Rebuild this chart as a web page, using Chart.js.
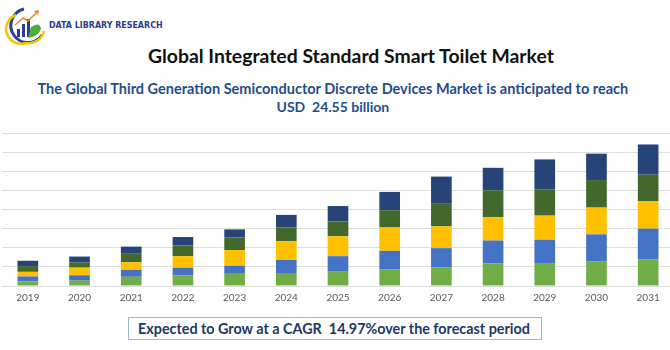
<!DOCTYPE html>
<html>
<head>
<meta charset="utf-8">
<script src="https://cdn.jsdelivr.net/npm/chart.js@4.4.1/dist/chart.umd.min.js"></script>
<style>
    html, body {
        margin: 0;
        padding: 0;
        width: 670px;
        height: 350px;
        overflow: hidden;
        background: #fff;
        font-family: Lato, "Open Sans", sans-serif;
    }
    .txt {
        position: absolute;
        white-space: nowrap;
        font-weight: bold;
        line-height: 1;
    }
    #logoText {
        left: 49px;
        top: 21px;
        font-family: "Liberation Sans Narrow", "DejaVu Sans Condensed", sans-serif;
        font-size: 10px;
        color: #2b3a8c;
    }
    #title {
        top: 46px;
        color: #111;
        font-size: 17px;
    }
    #sub1 {
        top: 82px;
        color: #1f4e8c;
        font-size: 14px;
    }
    #sub2 {
        top: 100px;
        color: #1f4e8c;
        font-size: 14px;
    }
    #cagrBox {
        position: absolute;
        left: 128px;
        top: 317px;
        width: 412px;
        height: 21px;
        border: 1px solid #9db4dc;
    }
    #cagr {
        top: 322px;
        color: #203864;
        font-size: 13px;
    }
    #chartWrap {
        position: absolute;
        left: 0;
        top: 126px;
        width: 676px;
        height: 187px;
    }
</style>
</head>
<body>

<svg style="position:absolute;left:4px;top:5px" width="44" height="42" viewBox="0 0 44 42">
    <path d="M20 4 A17 17 0 1 0 38 30" fill="none" stroke="#2c3e94" stroke-width="3"/>
    <path d="M12 10 A14 14 0 0 0 22 38 A16 16 0 0 0 40 26" fill="none" stroke="#f2c500" stroke-width="2.5"/>
    <rect x="13" y="24" width="3" height="8" fill="#2c3e94"/>
    <rect x="18" y="19" width="3" height="13" fill="#2c3e94"/>
    <rect x="23" y="14" width="3" height="18" fill="#2c3e94"/>
    <path d="M27 22 Q36 16 37 24 Q34 32 24 33 Z" fill="#4caf3a"/>
    <path d="M11 20 L19 13 L24 16 L33 7" fill="none" stroke="#f08a24" stroke-width="1.6"/>
    <path d="M30 6 L35 5 L34 10 Z" fill="#f08a24"/>
</svg>
<div class="txt" id="logoText">DATA LIBRARY RESEARCH</div>

<div class="txt" id="title">Global Integrated Standard Smart Toilet Market</div>
<div class="txt" id="sub1">The Global Third Generation Semiconductor Discrete Devices Market is anticipated to reach</div>
<div class="txt" id="sub2">USD&nbsp; 24.55 billion</div>

<div id="chartWrap"><canvas id="myChart" width="676" height="187"></canvas></div>

<div id="cagrBox"></div>
<div class="txt" id="cagr">Expected to Grow at a CAGR&nbsp; 14.97%over the forecast period</div>

<script>
// values (arbitrary units, gridline step = 5)
var years = ['2019', '2020', '2021', '2022', '2023', '2024', '2025', '2026', '2027', '2028', '2029', '2030', '2031'];

var segGreen = [1.2, 1.4, 2.4, 2.8, 3.2, 3.4, 3.9, 4.4, 4.9, 5.9, 6.0, 6.5, 7.0];
var segBlue = [1.3, 1.4, 1.8, 2.0, 2.1, 3.4, 3.9, 4.8, 5.0, 6.0, 6.1, 7.0, 8.0];
var segYellow = [1.2, 2.0, 2.0, 3.0, 4.1, 4.9, 5.2, 6.1, 5.7, 6.1, 6.3, 7.0, 7.2];
var segDarkGreen = [1.5, 1.4, 2.4, 2.8, 3.3, 3.6, 3.9, 4.5, 5.9, 7.0, 6.9, 7.2, 6.9];
var segNavy = [1.4, 1.5, 1.7, 2.2, 2.1, 3.3, 4.0, 4.8, 7.1, 5.9, 7.8, 6.9, 7.9];

var colors = ['#70ad47', '#4472c4', '#ffc000', '#43682b', '#264478'];

// centre a text element on a given x
function centreAt(id, cx) {
    var el = document.getElementById(id);
    el.style.left = (cx - el.offsetWidth / 2) + 'px';
}

function fitWidth(id, target) {
    var el = document.getElementById(id);
    var size = parseFloat(getComputedStyle(el).fontSize);
    el.style.fontSize = (size * target / el.offsetWidth) + 'px';
}

fitWidth('title', 406);
fitWidth('sub1', 591);
fitWidth('sub2', 113);
fitWidth('cagr', 392);
fitWidth('logoText', 114);
centreAt('title', 351);
centreAt('sub1', 333);
centreAt('sub2', 333);
centreAt('cagr', 334);

function makeSet(label, data, color) {
    return {
        label: label,
        data: data,
        backgroundColor: color,
        borderWidth: 0,
        barPercentage: 0.8,
        categoryPercentage: 0.5
    };
}

var cdata = {
    labels: years,
    datasets: [
        makeSet('Segment 1', segGreen, colors[0]),
        makeSet('Segment 2', segBlue, colors[1]),
        makeSet('Segment 3', segYellow, colors[2]),
        makeSet('Segment 4', segDarkGreen, colors[3]),
        makeSet('Segment 5', segNavy, colors[4])
    ]
};

var config = {
    type: 'bar',
    data: cdata,
    options: {
        responsive: false,
        animation: false,
        layout: {
            padding: { top: 7, bottom: 3, left: 2, right: 2 }
        },
        plugins: {
            legend: { display: false },
            tooltip: { enabled: false }
        },
        scales: {
            x: {
                stacked: true,
                grid: { display: false, drawTicks: false },
                border: { display: false },
                ticks: {
                    color: '#595959',
                    padding: 6,
                    font: { family: 'Lato', size: 10 }
                }
            },
            y: {
                stacked: true,
                min: 0,
                max: 40,
                grid: { color: '#dedede', lineWidth: 1, drawTicks: false },
                border: { display: false },
                ticks: { display: false, stepSize: 5 }
            }
        }
    }
};

var myChart = new Chart(document.getElementById('myChart'), config);
</script>
</body>
</html>
